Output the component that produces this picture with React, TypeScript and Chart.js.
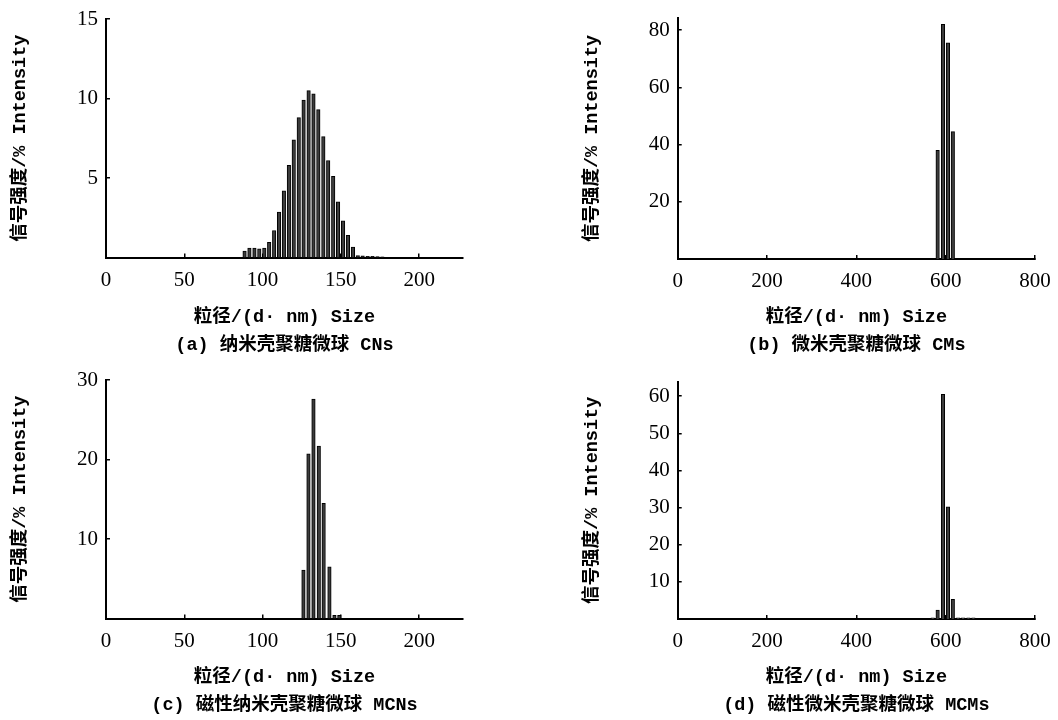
import React, { useEffect, useRef } from 'react';
import { Chart, registerables } from 'chart.js';

Chart.register(...registerables);

// ---------- data ----------
const sizeA = [88.5, 91.6, 94.8, 97.9, 101.1, 104.2, 107.4, 110.5, 113.6, 116.8, 119.9, 123.1, 126.2, 129.4, 132.5, 135.6, 138.8, 141.9, 145.1, 148.2, 151.4, 154.5, 157.7, 160.8, 163.9, 167.1, 170.2, 173.4, 176.5];
const intensityA = [0.4, 0.6, 0.6, 0.55, 0.6, 0.95, 1.7, 2.85, 4.2, 5.8, 7.4, 8.8, 9.9, 10.5, 10.3, 9.3, 7.6, 6.1, 5.1, 3.5, 2.3, 1.4, 0.65, 0.12, 0.1, 0.08, 0.08, 0.06, 0.05];

const sizeB = [582, 594, 605, 616];
const intensityB = [38, 82, 75.5, 44.5];

const sizeC = [126.1, 129.3, 132.5, 135.9, 139.0, 142.7, 145.9, 149.0];
const intensityC = [6.1, 20.7, 27.6, 21.7, 14.5, 6.5, 0.4, 0.4];

const sizeD = [571, 582, 594, 605, 616, 628, 639, 651, 662];
const intensityD = [0.3, 2.4, 60.5, 30.2, 5.3, 0.3, 0.3, 0.3, 0.3];

const xTicksNano = [0, 50, 100, 150, 200];
const xTicksMicro = [0, 200, 400, 600, 800];
const yTicksA = [5, 10, 15];
const yTicksB = [20, 40, 60, 80];
const yTicksC = [10, 20, 30];
const yTicksD = [10, 20, 30, 40, 50, 60];

const yTitle = '信号强度/% Intensity';
const xTitle = '粒径/(d· nm) Size';
const captionA = '(a) 纳米壳聚糖微球 CNs';
const captionB = '(b) 微米壳聚糖微球 CMs';
const captionC = '(c) 磁性纳米壳聚糖微球 MCNs';
const captionD = '(d) 磁性微米壳聚糖微球 MCMs';

const TEXT_FAMILY = '"Liberation Mono", "Noto Sans CJK SC", monospace';
const TICK_FAMILY = '"Liberation Serif", serif';

type PanelProps = {
  sizes: number[];
  values: number[];
  xMax: number;
  yMax: number;
  xTicks: number[];
  yTicks: number[];
  caption: string;
  left: number;
  top: number;
  width: number;
  height: number;
  padTop: number;
  padRight: number;
  yWidth: number;
  xHeight: number;
  yTitlePad: number;
};

function Panel(p: PanelProps) {
  const ref = useRef<HTMLCanvasElement | null>(null);
  useEffect(() => {
    if (!ref.current) return;
    const chart = new Chart(ref.current, {
      type: 'bar',
      data: {
        datasets: [
          {
            data: p.sizes.map((x, i) => ({ x, y: p.values[i] })),
            backgroundColor: '#3c3c3c',
            borderColor: '#000',
            borderWidth: 1,
            barThickness: 3.5,
          },
        ],
      },
      options: {
        animation: false,
        responsive: false,
        maintainAspectRatio: false,
        layout: { padding: { top: p.padTop, right: p.padRight, left: 0, bottom: 0 } },
        plugins: { legend: { display: false }, tooltip: { enabled: false } },
        scales: {
          x: {
            type: 'linear',
            offset: false,
            min: 0,
            max: p.xMax,
            afterBuildTicks: (s: any) => {
              s.ticks = p.xTicks.map((v) => ({ value: v }));
            },
            afterFit: (s: any) => {
              s.height = p.xHeight;
              s.paddingLeft = 0;
              s.paddingRight = 0;
            },
            grid: { offset: false, drawOnChartArea: false, drawTicks: true, tickLength: -4, color: '#000', lineWidth: 1.5 },
            border: { color: '#000', width: 2 },
            ticks: {
              color: '#000',
              padding: 14,
              maxRotation: 0,
              autoSkip: false,
              font: { family: TICK_FAMILY, size: 21 },
            },
            title: {
              display: true,
              text: [xTitle, p.caption],
              color: '#000',
              padding: 0,
              font: { family: TEXT_FAMILY, size: 18.5, weight: 'bold', lineHeight: '28px' },
            },
          },
          y: {
            min: 0,
            max: p.yMax,
            afterBuildTicks: (s: any) => {
              s.ticks = p.yTicks.map((v) => ({ value: v }));
            },
            afterFit: (s: any) => {
              s.width = p.yWidth;
              s.paddingTop = 0;
              s.paddingBottom = 0;
            },
            grid: { offset: false, drawOnChartArea: false, drawTicks: true, tickLength: -4, color: '#000', lineWidth: 1.5 },
            border: { color: '#000', width: 2 },
            ticks: {
              color: '#000',
              padding: 12,
              font: { family: TICK_FAMILY, size: 21 },
            },
            title: {
              display: true,
              text: yTitle,
              color: '#000',
              padding: { top: p.yTitlePad, bottom: 0 },
              font: { family: TEXT_FAMILY, size: 18.5, weight: 'bold', lineHeight: '20px' },
            },
          },
        },
      } as any,
    });
    return () => chart.destroy();
  }, []);
  return (
    <canvas
      ref={ref}
      width={p.width}
      height={p.height}
      style={{ position: 'absolute', left: p.left, top: p.top, width: p.width, height: p.height }}
    />
  );
}

export default function App() {
  return (
    <div style={{ position: 'absolute', left: 0, top: 0, width: 1058, height: 720, background: '#fff' }}>
      <Panel sizes={sizeA} values={intensityA} xMax={228} yMax={15} xTicks={xTicksNano} yTicks={yTicksA}
        caption={captionA} left={0} top={0} width={490} height={359}
        padTop={19} padRight={27} yWidth={106} xHeight={101.5} yTitlePad={10} />
      <Panel sizes={sizeB} values={intensityB} xMax={800} yMax={84.2} xTicks={xTicksMicro} yTicks={yTicksB}
        caption={captionB} left={560} top={0} width={498} height={359}
        padTop={18} padRight={23} yWidth={117.7} xHeight={100} yTitlePad={22} />
      <Panel sizes={sizeC} values={intensityC} xMax={228} yMax={30} xTicks={xTicksNano} yTicks={yTicksC}
        caption={captionC} left={0} top={360} width={490} height={359}
        padTop={20} padRight={27} yWidth={106} xHeight={100.5} yTitlePad={10} />
      <Panel sizes={sizeD} values={intensityD} xMax={800} yMax={63.9} xTicks={xTicksMicro} yTicks={yTicksD}
        caption={captionD} left={560} top={360} width={498} height={359}
        padTop={21.7} padRight={23} yWidth={117.7} xHeight={100} yTitlePad={22} />
    </div>
  );
}
